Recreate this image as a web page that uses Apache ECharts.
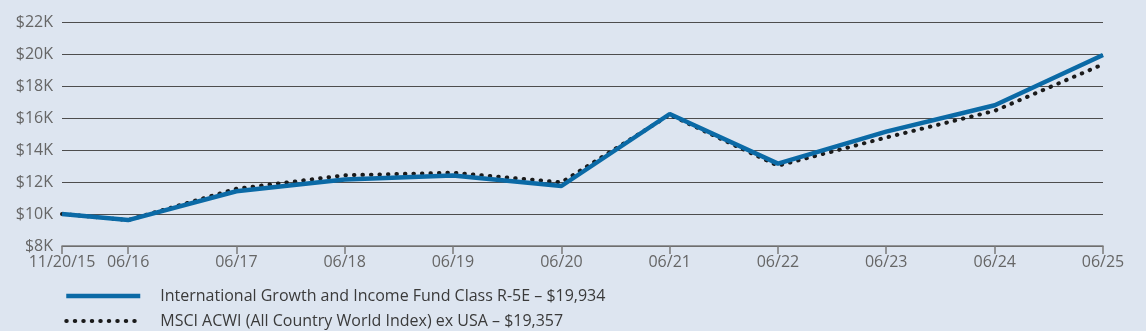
<!DOCTYPE html>
<html>
<head>
<meta charset="utf-8">
<script src="https://cdn.jsdelivr.net/npm/echarts@6/dist/echarts.min.js"></script>
<style>
  html, body { margin: 0; padding: 0; background: #dde5f0; }
  #chart { width: 1146px; height: 331px; }
</style>
</head>
<body>
<div id="chart"></div>
<script>
// Growth of a hypothetical $10,000 investment
const dates = ['2015-11-20', '2016-06-30', '2017-06-30', '2018-06-30', '2019-06-30', '2020-06-30',
               '2021-06-30', '2022-06-30', '2023-06-30', '2024-06-30', '2025-06-30'];
const tickLabels = ['11/20/15', '06/16', '06/17', '06/18', '06/19', '06/20', '06/21', '06/22', '06/23', '06/24', '06/25'];
const fundValues = [10000, 9620, 11420, 12150, 12400, 11750, 16250, 13150, 15150, 16800, 19934];
const indexValues = [10000, 9620, 11580, 12420, 12580, 11980, 16200, 13020, 14780, 16450, 19357];
const fundName = 'International Growth and Income Fund Class R-5E – $19,934';
const indexName = 'MSCI ACWI (All Country World Index) ex USA – $19,357';

const times = dates.map(d => Date.parse(d + 'T00:00:00Z'));
const pair = vals => vals.map((v, i) => [times[i], v]);

const chart = echarts.init(document.getElementById('chart'));
const font = '"Open Sans", Lato, sans-serif';
const clear = 'rgba(0,0,0,0)';
const blue = '#0b6aa6';
const dark = '#1a1a1a';
const dotStyle = { color: dark, width: 4, type: [0.5, 8], cap: 'round' };
const solidStyle = { color: blue, width: 4.5 };

chart.setOption({
  backgroundColor: '#dde5f0',
  animation: false,
  grid: { left: 62, right: 43, top: 22, bottom: 85 },
  xAxis: {
    type: 'value',
    min: times[0],
    max: times[times.length - 1],
    axisLine: { show: true, lineStyle: { color: '#7a7a7a', width: 1.5 } },
    axisTick: { show: true, customValues: times, length: 8, lineStyle: { color: '#7a7a7a', width: 1.5 } },
    axisLabel: {
      customValues: times,
      formatter: v => tickLabels[times.indexOf(v)] || '',
      color: '#666', fontSize: 16, fontFamily: font, margin: 8
    },
    splitLine: { show: false }
  },
  yAxis: {
    type: 'value',
    min: 8000, max: 22000, interval: 2000,
    axisLine: { show: false },
    axisTick: { show: false },
    axisLabel: {
      formatter: v => '$' + (v / 1000) + 'K',
      color: '#666', fontSize: 16, fontFamily: font, margin: 9
    },
    splitLine: { lineStyle: { color: '#4d4d4d', width: 1.2 } }
  },
  legend: {
    orient: 'vertical',
    left: 64, top: 287, padding: 0,
    itemWidth: 74, itemHeight: 10, itemGap: 7,
    itemStyle: { opacity: 0 },
    data: [
      { name: fundName, lineStyle: solidStyle },
      { name: indexName, lineStyle: dotStyle }
    ],
    textStyle: { color: '#3a3a3a', fontSize: 16, lineHeight: 18, fontFamily: font, padding: [0, 0, 0, 15] }
  },
  series: [
    {
      name: indexName,
      type: 'line',
      data: pair(indexValues),
      symbol: 'none',
      z: 2,
      lineStyle: dotStyle,
      itemStyle: { color: clear }
    },
    {
      name: fundName,
      type: 'line',
      data: pair(fundValues),
      symbol: 'none',
      z: 3,
      lineStyle: solidStyle,
      itemStyle: { color: clear }
    }
  ]
});
</script>
</body>
</html>
